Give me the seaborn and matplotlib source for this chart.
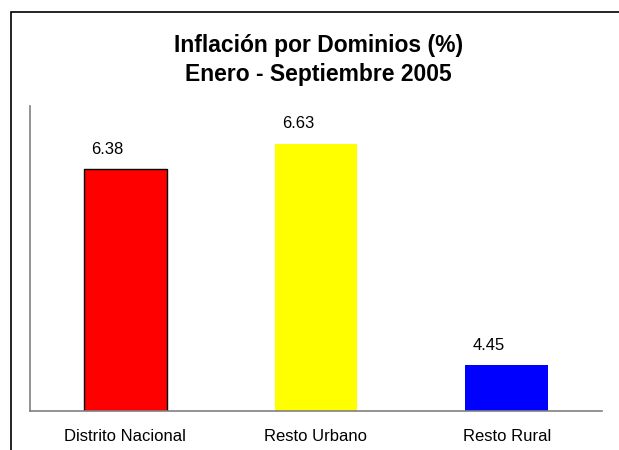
import matplotlib
matplotlib.use("Agg")
import matplotlib.pyplot as plt
import seaborn as sns
import pandas as pd
from matplotlib.patches import Rectangle

categories = ["Distrito Nacional", "Resto Urbano", "Resto Rural"]
values = [6.38, 6.63, 4.45]
colors = ["#FF0000", "#FFFF00", "#0000FF"]
title = "Inflación por Dominios (%)\nEnero - Septiembre 2005"

sns.set_theme(style="white")
plt.rcParams["font.family"] = ["Liberation Sans", "DejaVu Sans"]

df = pd.DataFrame({"cat": categories, "val": values})

fig = plt.figure(figsize=(6.19, 4.5), dpi=100)
ax = fig.add_axes([0.0485, 0.0867, 0.924, 0.678])

sns.barplot(data=df, x="cat", y="val", hue="cat", palette=colors,
            legend=False, width=0.435, ax=ax, saturation=1)

for i, p in enumerate(ax.patches):
    if i == 0:
        p.set_edgecolor("black")
        p.set_linewidth(1.0)
    else:
        p.set_edgecolor("none")

ax.set_ylim(4, 7)
ax.set_xlim(-0.5, 2.5)
ax.set_xlabel("")
ax.set_ylabel("")
ax.set_yticks([])
ax.tick_params(axis="x", length=0, pad=13, labelsize=12, colors="black")
for s in ["top", "right"]:
    ax.spines[s].set_visible(False)
for s in ["left", "bottom"]:
    ax.spines[s].set_color("#808080")
    ax.spines[s].set_linewidth(1.2)

for i, v in enumerate(values):
    ax.annotate(f"{v:.2f}", xy=(i, v), xytext=(-13, 11), textcoords="offset points",
                ha="center", va="baseline", fontsize=12, color="black")

fig.text(0.515, 0.867, title, ha="center", va="center", fontsize=16.5,
         fontweight="bold", linespacing=1.3, color="black")

fig.patches.append(Rectangle((11 / 619, -0.1), 1.2, 0.1 + (1 - 12 / 450),
                             transform=fig.transFigure, fill=False,
                             edgecolor="black", linewidth=1.2, figure=fig))

fig.savefig("out.png", dpi=100)
